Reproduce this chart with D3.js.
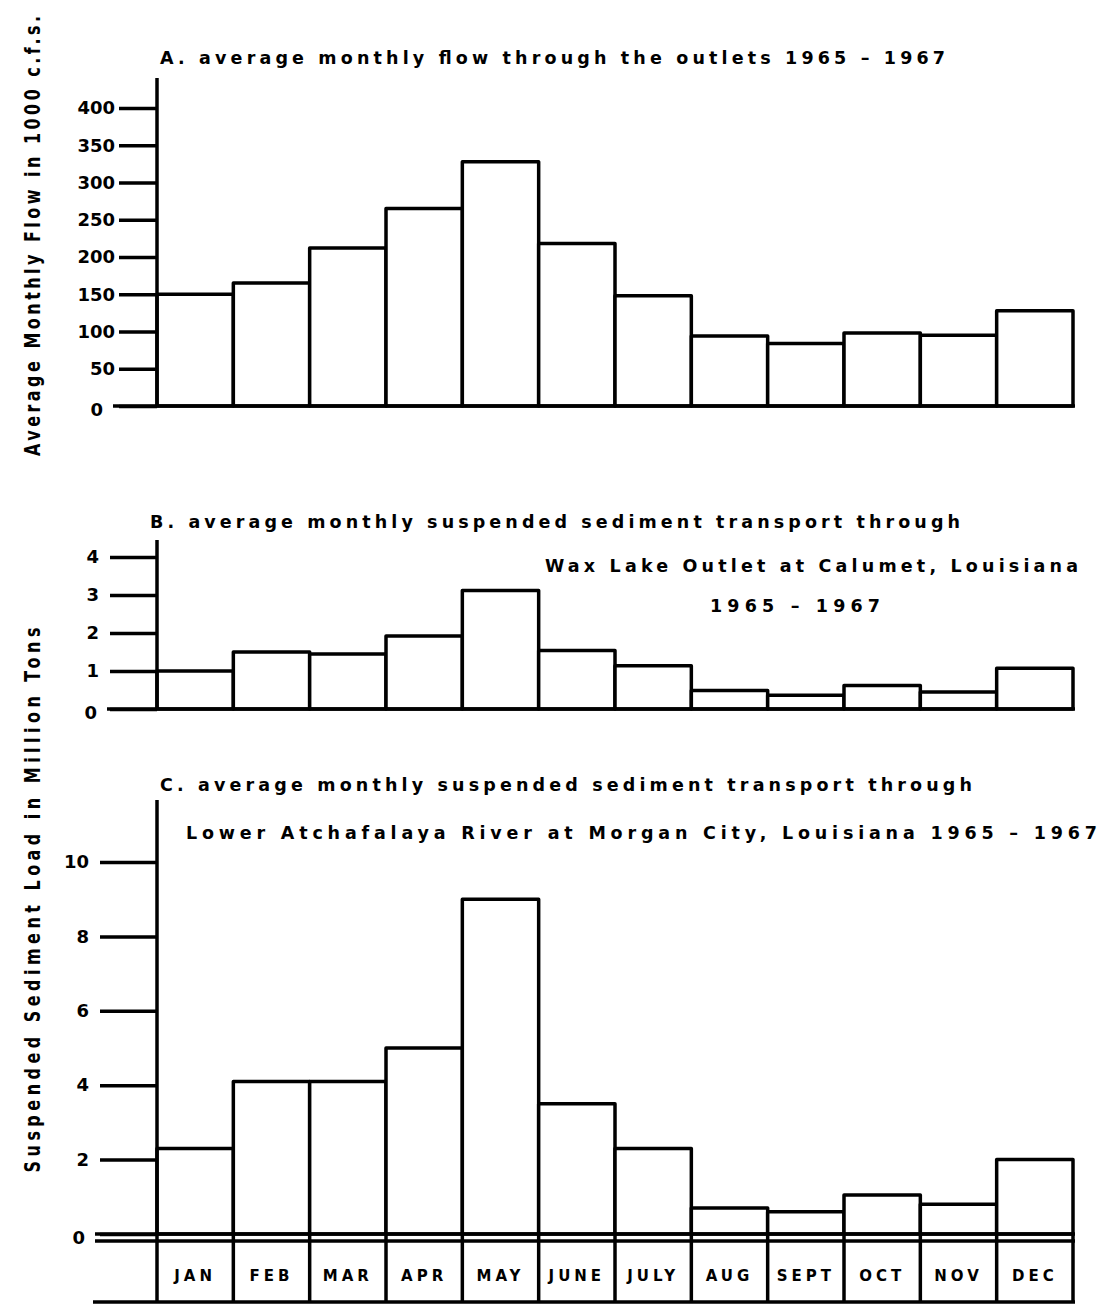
<!DOCTYPE html>
<html>
<head>
<meta charset="utf-8">
<script src="https://cdn.jsdelivr.net/npm/d3@7"></script>
<style>
  body { margin: 0; background: #fff; }
  svg text { font-family: "DejaVu Sans", sans-serif; font-weight: bold; fill: #000; }
</style>
</head>
<body>
<svg id="chart" width="1100" height="1305"></svg>
<script>
// month categories shared by the three panels
var months = ['JAN', 'FEB', 'MAR', 'APR', 'MAY', 'JUNE', 'JULY', 'AUG', 'SEPT', 'OCT', 'NOV', 'DEC'];

// A. average monthly flow through the outlets (1000 c.f.s.)
var flowValues = [150, 165, 212, 265, 328, 218, 148, 94, 84, 98, 95, 128];
var flowTicks = [0, 50, 100, 150, 200, 250, 300, 350, 400];

// B. suspended sediment, Wax Lake Outlet at Calumet (million tons)
var waxLakeValues = [1.0, 1.5, 1.45, 1.92, 3.12, 1.54, 1.14, 0.49, 0.36, 0.62, 0.45, 1.07];
var waxLakeTicks = [0, 1, 2, 3, 4];

// C. suspended sediment, Lower Atchafalaya at Morgan City (million tons)
var morganCityValues = [2.3, 4.1, 4.1, 5.0, 9.0, 3.5, 2.3, 0.7, 0.6, 1.05, 0.8, 2.0];
var morganCityTicks = [0, 2, 4, 6, 8, 10];

var svg = d3.select('#chart');
var lineW = 3.5;

var x = d3.scaleBand()
    .domain(months)
    .range([157, 1073])
    .padding(0);

// draws one bar panel: y axis line, ticks, bars and zero line
function drawPanel(values, ticks, yScale, opt) {
    var g = svg.append('g');

    var axis = d3.axisLeft(yScale)
        .tickValues(ticks)
        .tickSize(opt.tickSize)
        .tickPadding(opt.tickPad)
        .tickFormat(d3.format('d'));

    var axisG = g.append('g')
        .attr('transform', 'translate(' + x.range()[0] + ',0)')
        .call(axis);
    axisG.select('.domain').remove();
    axisG.selectAll('.tick line')
        .attr('stroke', '#000')
        .attr('stroke-width', lineW);
    axisG.selectAll('.tick text')
        .attr('font-family', '"DejaVu Sans", sans-serif')
        .attr('font-weight', 'bold')
        .attr('font-size', 18)
        .attr('fill', '#000');
    // the zero label sits left of where the zero line starts
    axisG.selectAll('.tick text')
        .filter(function(d) { return d === 0; })
        .attr('x', opt.zeroStart - x.range()[0] - 10)
        .attr('dy', '0.5em');

    g.selectAll('.bar')
        .data(values)
        .enter().append('rect')
        .attr('class', 'bar')
        .attr('x', function(d, i) { return x(months[i]); })
        .attr('y', function(d) { return yScale(d); })
        .attr('width', x.bandwidth())
        .attr('height', function(d) { return yScale(0) - yScale(d); })
        .attr('fill', '#fff')
        .attr('stroke', '#000')
        .attr('stroke-width', lineW)
        .attr('stroke-linejoin', 'round');

    // y axis line
    g.append('line')
        .attr('x1', x.range()[0]).attr('x2', x.range()[0])
        .attr('y1', opt.axisTop).attr('y2', opt.axisBottom)
        .attr('stroke', '#000').attr('stroke-width', lineW);

    // zero line
    g.append('line')
        .attr('x1', opt.zeroStart).attr('x2', x.range()[1] + 2)
        .attr('y1', yScale(0)).attr('y2', yScale(0))
        .attr('stroke', '#000').attr('stroke-width', lineW);

    return g;
}

function addText(str, xPos, yPos, len, size) {
    return svg.append('text')
        .attr('x', xPos)
        .attr('y', yPos)
        .attr('font-size', size)
        .attr('textLength', len)
        .attr('lengthAdjust', 'spacing')
        .text(str);
}

// Panel A
var yA = d3.scaleLinear().domain([0, 400]).range([406, 108]);
drawPanel(flowValues, flowTicks, yA, {tickSize: 38, tickPad: 4, axisTop: 78, axisBottom: 406, zeroStart: 113});
addText('A.  average monthly flow through the outlets 1965 \u2013 1967', 160, 64, 785, 17.5);

// Panel B
var yB = d3.scaleLinear().domain([0, 4]).range([709, 557]);
drawPanel(waxLakeValues, waxLakeTicks, yB, {tickSize: 47, tickPad: 11, axisTop: 540, axisBottom: 709, zeroStart: 107});
addText('B.  average monthly suspended sediment transport through', 150, 528, 810, 17.5);
addText('Wax Lake Outlet at Calumet, Louisiana', 545, 572, 533, 17.5);
addText('1965 \u2013 1967', 710, 612, 170, 17.5);

// Panel C
var yC = d3.scaleLinear().domain([0, 10]).range([1234, 862]);
var gC = drawPanel(morganCityValues, morganCityTicks, yC, {tickSize: 57, tickPad: 11, axisTop: 800, axisBottom: 1302, zeroStart: 95});
addText('C.  average monthly suspended sediment transport through', 160, 791, 812, 17.5);
addText('Lower Atchafalaya River at  Morgan City, Louisiana  1965 \u2013 1967', 186, 839, 911, 17.5);

// second zero line, month boxes and bottom rule of panel C
var zeroC = yC(0);
var rowTop = zeroC + 7;
var rowBottom = 1302;
gC.append('line')
    .attr('x1', 95).attr('x2', x.range()[1] + 2)
    .attr('y1', rowTop).attr('y2', rowTop)
    .attr('stroke', '#000').attr('stroke-width', lineW);
gC.append('line')
    .attr('x1', 93).attr('x2', x.range()[1] + 2)
    .attr('y1', rowBottom).attr('y2', rowBottom)
    .attr('stroke', '#000').attr('stroke-width', lineW);
gC.selectAll('.sep')
    .data(months.slice(1).map(function(m) { return x(m); }).concat([x.range()[1]]))
    .enter().append('line')
    .attr('class', 'sep')
    .attr('x1', function(d) { return d; }).attr('x2', function(d) { return d; })
    .attr('y1', zeroC).attr('y2', rowBottom)
    .attr('stroke', '#000').attr('stroke-width', lineW);
gC.selectAll('.month')
    .data(months)
    .enter().append('text')
    .attr('class', 'month')
    .attr('x', function(d) { return x(d) + x.bandwidth() / 2; })
    .attr('y', 1281)
    .attr('text-anchor', 'middle')
    .attr('font-size', 15)
    .attr('letter-spacing', 4)
    .text(function(d) { return d; });

// rotated y axis labels
function addYLabel(str, cy, len) {
    svg.append('text')
        .attr('transform', 'translate(40,' + cy + ') rotate(-90) scale(1,1.3)')
        .attr('text-anchor', 'middle')
        .attr('font-size', 16)
        .attr('textLength', len)
        .attr('lengthAdjust', 'spacing')
        .text(str);
}
addYLabel('Average Monthly Flow in 1000 c.f.s.', 236, 440);
addYLabel('Suspended Sediment Load in Million Tons', 900, 545);
</script>
</body>
</html>
